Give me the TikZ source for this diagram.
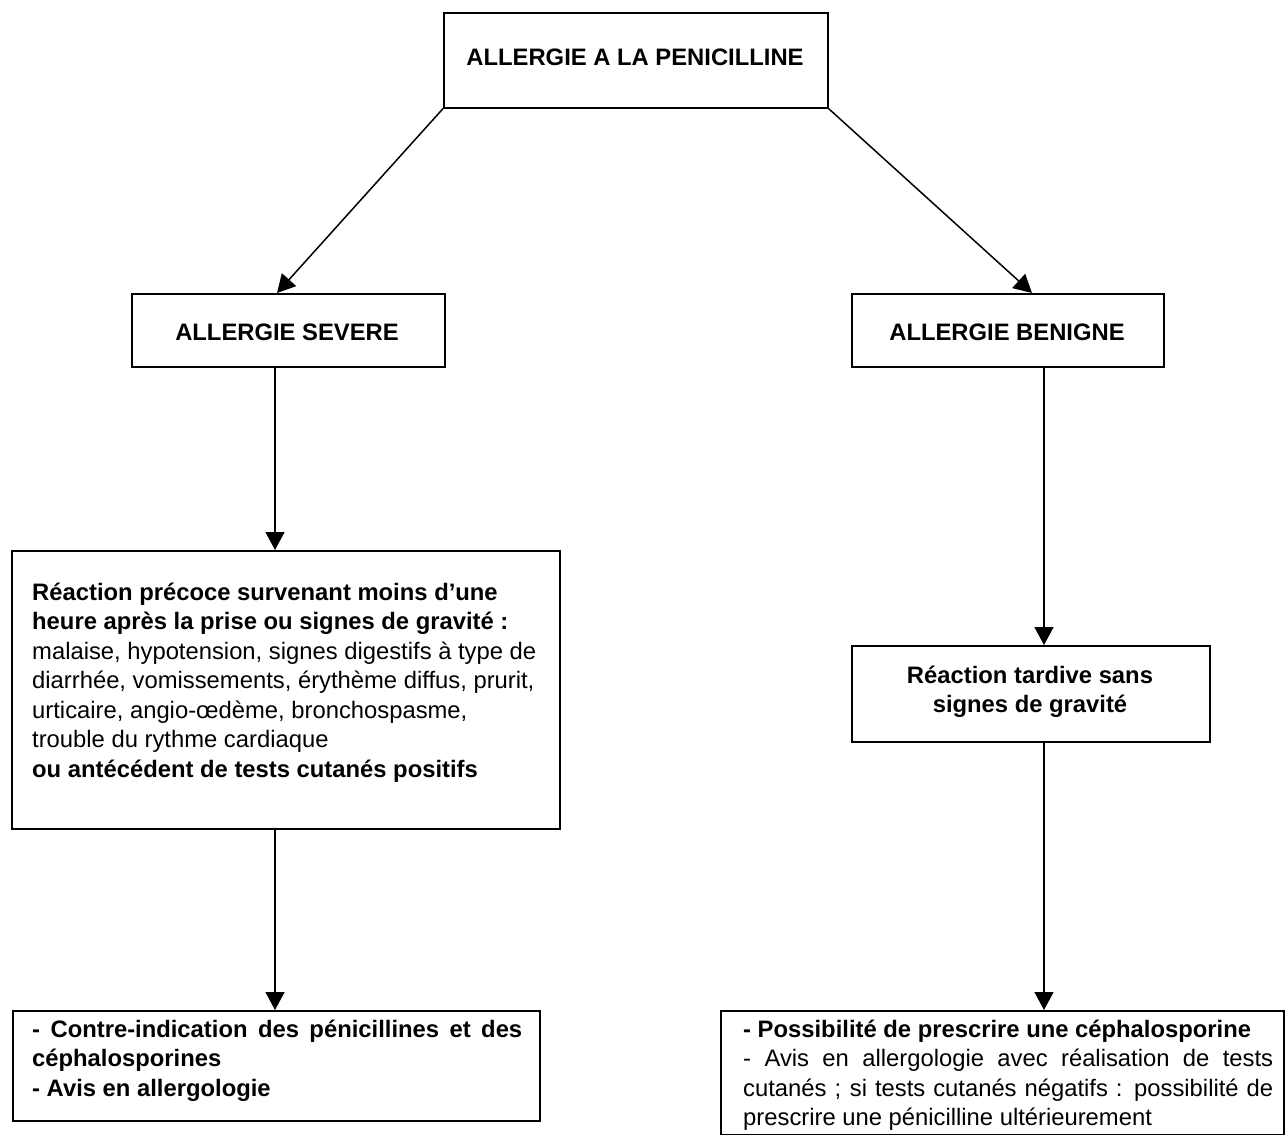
\documentclass[tikz,border=0pt]{standalone}
\usepackage{fontspec}
\setmainfont{Liberation Sans}
\usetikzlibrary{arrows.meta}
\newcommand\fsz{\fontsize{23.8}{29.5}\selectfont}
\begin{document}
\begin{tikzpicture}[x=1pt,y=-1pt,
  box/.style={draw, line width=1.6pt, inner sep=0pt, anchor=north west},
  arr/.style={line width=1.5pt, -{Triangle[length=18pt,width=19pt]}},
  lbl/.style={inner sep=0pt, font=\fsz\bfseries, anchor=base},
  para/.style={inner sep=0pt, font=\fsz, anchor=north west, align=left}]
\useasboundingbox (0,0) rectangle (1285,1135);
% boxes
\node[box, minimum width=384pt, minimum height=95pt] (top) at (443,12) {};
\node[box, minimum width=313pt, minimum height=73pt] (sev) at (131,293) {};
\node[box, minimum width=312pt, minimum height=73pt] (ben) at (851,293) {};
\node[box, minimum width=548pt, minimum height=278pt] (det) at (11,550) {};
\node[box, minimum width=358pt, minimum height=96pt] (tard) at (851,645) {};
\node[box, minimum width=527pt, minimum height=110pt] (bl) at (12,1010) {};
\node[box, minimum width=563pt, minimum height=124pt] (br) at (720,1010) {};
% texts
\node[lbl] (ttop) at (635,65) {ALLERGIE A LA PENICILLINE};
\node[lbl] (tsev) at (287,340) {ALLERGIE SEVERE};
\node[lbl] (tben) at (1007,340) {ALLERGIE BENIGNE};
\node[lbl] (ttard1) at (1030,683) {Réaction tardive sans};
\node[lbl] (ttard2) at (1030,712.5) {signes de gravité};
\node[para] (tdet) at (32,579.35) {\strut\textbf{Réaction précoce survenant moins d’une}\\
\textbf{heure après la prise ou signes de gravité :}\\
malaise, hypotension, signes digestifs à type de\\
diarrhée, vomissements, érythème diffus, prurit,\\
urticaire, angio-œdème, bronchospasme,\\
trouble du rythme cardiaque\\
\textbf{ou antécédent de tests cutanés positifs}};
\node[para, font=\fsz\bfseries] (tbl) at (32,1016.35) {\strut\makebox[490pt][s]{- Contre-indication des pénicillines et des}\\
céphalosporines\\
- Avis en allergologie};
\node[para] (tbr) at (743,1016.35) {\strut\textbf{- Possibilité de prescrire une céphalosporine}\\
\makebox[530pt][s]{- Avis en allergologie avec réalisation de tests}\\
\makebox[530pt][s]{cutanés ; si tests cutanés négatifs : possibilité de}\\
prescrire une pénicilline ultérieurement};
% connector positions
\coordinate (lx) at (275,0);
\coordinate (rx) at (1044,0);
\coordinate (sevin) at (277,0);
\coordinate (benin) at (1032,0);
% connectors
\draw[arr] (top.south west) -- (sev.north -| sevin);
\draw[arr] (top.south east) -- (ben.north -| benin);
\draw[arr] (sev.south -| lx) -- (det.north -| lx);
\draw[arr] (det.south -| lx) -- (bl.north -| lx);
\draw[arr] (ben.south -| rx) -- (tard.north -| rx);
\draw[arr] (tard.south -| rx) -- (br.north -| rx);
\end{tikzpicture}
\end{document}
